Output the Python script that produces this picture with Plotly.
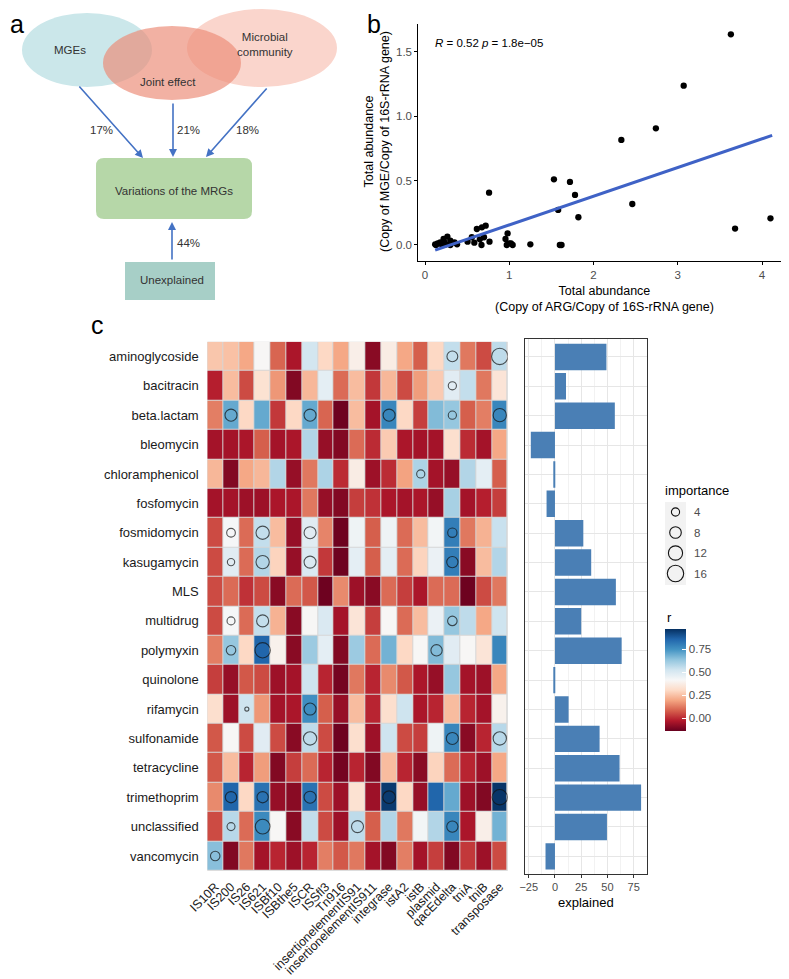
import numpy as np
import plotly.graph_objects as go

W, H = 789, 979          # browser window
OFF = 8                  # default page body margin
FW, FH = W - OFF, H - OFF  # figure size so the page fits the window
FONT = "Liberation Sans, Arial, sans-serif"


def px(x):
    """page x (pixels) -> paper fraction"""
    return (x - OFF) / FW


def py(y):
    """page y (pixels from top) -> paper fraction"""
    return 1 - (y - OFF) / FH


# ---------------- Panel b data ----------------
arg_total = [3.63, 3.07, 2.74, 2.33, 0.76, 1.53, 1.72, 1.78, 1.58, 1.82, 2.46, 3.68, 4.10,
             1.60, 1.62, 1.25, 0.98, 0.955, 0.97, 1.00, 1.04, 1.02, 0.72, 0.675, 0.615,
             0.70, 0.65, 0.67, 0.765, 0.555, 0.585, 0.505, 0.38, 0.35, 0.30, 0.265, 0.22,
             0.23, 0.18, 0.15, 0.12, 0.195, 0.13, 0.245, 0.30]
mge_total = [1.634, 1.236, 0.905, 0.815, 0.406, 0.509, 0.489, 0.388, 0.272, 0.215, 0.318, 0.127,
             0.207, 0.0, 0.0, 0.005, 0.09, 0.047, 0.0, 0.013, 0.0, 0.013, 0.15, 0.137, 0.124,
             0.06, 0.044, 0.0, 0.026, 0.06, 0.018, 0.026, 0.005, 0.02, 0.034, 0.065, 0.047,
             0.02, 0.02, 0.013, 0.005, 0.005, 0.0, 0.005, 0.0]
fit_x = [0.12, 4.12]
fit_y = [-0.04, 0.85]
b_xticks = [0, 1, 2, 3, 4]
b_yticks = [0.0, 0.5, 1.0, 1.5]

# ---------------- Panel c data ----------------
mrg_types = ["aminoglycoside", "bacitracin", "beta.lactam", "bleomycin", "chloramphenicol",
             "fosfomycin", "fosmidomycin", "kasugamycin", "MLS", "multidrug", "polymyxin",
             "quinolone", "rifamycin", "sulfonamide", "tetracycline", "trimethoprim",
             "unclassified", "vancomycin"]
mge_types = ["IS10R", "IS200", "IS26", "IS621", "ISBf10", "ISBthe5", "ISCR", "ISSfl3", "Tn916",
             "insertionelementIS91", "insertionelementIS911", "integrase", "istA2", "istB",
             "plasmid", "qacEdelta", "tniA", "tniB", "transposase"]
r_values = [
    [0.26, 0.25, 0.20, 0.41, 0.09, -0.04, 0.52, 0.30, 0.20, 0.38, -0.09, 0.37, 0.20, 0.08, 0.30, 0.55, 0.12, 0.05, 0.56],
    [-0.02, 0.24, 0.05, 0.33, 0.17, -0.10, 0.23, 0.47, 0.10, 0.24, 0.02, 0.23, 0.05, 0.18, 0.27, 0.48, 0.55, 0.12, 0.34],
    [0.13, 0.70, 0.30, 0.70, 0.02, 0.30, 0.70, 0.09, -0.13, 0.24, -0.05, 0.78, 0.30, 0.03, 0.66, 0.63, 0.08, 0.13, 0.78],
    [-0.05, -0.05, -0.04, 0.08, -0.05, -0.04, 0.58, -0.07, -0.10, 0.10, 0.00, 0.27, -0.04, -0.05, -0.05, 0.32, 0.00, -0.05, 0.20],
    [0.23, -0.10, 0.20, 0.23, 0.58, -0.07, 0.12, 0.59, 0.00, 0.37, -0.06, 0.00, 0.19, 0.59, -0.05, -0.07, 0.58, 0.47, 0.08],
    [-0.05, -0.05, -0.06, -0.06, -0.04, -0.04, 0.12, -0.07, -0.10, 0.03, 0.01, -0.04, -0.05, -0.04, -0.07, 0.60, -0.05, -0.02, 0.03],
    [0.05, 0.42, 0.10, 0.55, 0.24, -0.07, 0.48, 0.14, -0.13, 0.44, 0.08, 0.44, 0.10, 0.24, 0.43, 0.80, 0.12, 0.22, 0.54],
    [0.05, 0.48, 0.10, 0.58, 0.29, -0.07, 0.50, 0.02, -0.13, 0.47, 0.08, 0.47, 0.10, 0.29, 0.45, 0.80, -0.09, 0.24, 0.58],
    [0.05, 0.10, 0.01, 0.05, -0.09, 0.10, 0.07, -0.13, 0.15, -0.06, -0.09, 0.10, 0.03, -0.04, 0.10, 0.10, -0.13, 0.05, 0.12],
    [0.05, 0.42, 0.10, 0.55, 0.22, -0.09, 0.41, 0.50, -0.05, 0.34, 0.03, 0.41, 0.10, 0.24, 0.45, 0.63, 0.56, 0.20, 0.53],
    [0.13, 0.63, 0.30, 0.86, 0.39, -0.09, 0.62, 0.47, -0.10, 0.62, 0.10, 0.68, 0.30, 0.41, 0.66, 0.48, 0.41, 0.34, 0.78],
    [0.03, -0.07, 0.07, 0.05, -0.06, -0.05, 0.53, -0.01, -0.12, 0.12, -0.01, 0.15, 0.07, -0.04, -0.07, 0.63, -0.05, -0.06, 0.20],
    [0.32, -0.06, 0.53, 0.17, -0.05, -0.04, 0.76, 0.08, -0.07, 0.24, -0.01, 0.32, 0.53, -0.04, -0.01, 0.24, -0.01, -0.05, 0.39],
    [0.07, 0.41, 0.05, 0.48, 0.05, -0.09, 0.56, 0.05, -0.13, 0.32, -0.06, 0.53, 0.05, 0.03, 0.44, 0.78, -0.09, -0.01, 0.57],
    [0.07, 0.24, -0.01, 0.18, -0.10, 0.03, 0.10, -0.01, -0.12, -0.01, -0.10, 0.24, -0.01, -0.09, 0.29, 0.10, -0.01, -0.06, 0.20],
    [0.15, 0.86, 0.30, 0.83, -0.07, -0.09, 0.83, 0.05, -0.06, 0.33, -0.06, 0.95, 0.30, -0.07, 0.86, 0.70, -0.06, -0.10, 0.96],
    [0.05, 0.57, 0.10, 0.77, 0.41, -0.09, 0.55, 0.05, -0.06, 0.56, 0.08, 0.58, 0.12, 0.43, 0.58, 0.78, -0.04, 0.38, 0.68],
    [0.65, -0.10, 0.12, -0.05, -0.01, -0.06, -0.01, 0.13, 0.07, 0.12, -0.05, -0.10, 0.13, -0.05, 0.03, -0.10, 0.02, -0.06, 0.05],
]
imp_row = [0, 0, 1, 2, 2, 2, 2, 2, 4, 6, 6, 6, 6, 7, 7, 7, 7, 9, 9, 9, 10, 10, 10,
           12, 12, 13, 13, 13, 15, 15, 15, 15, 15, 16, 16, 16, 16, 17]
imp_col = [15, 18, 15, 1, 6, 11, 15, 18, 13, 1, 3, 6, 15, 1, 3, 6, 15, 1, 3, 15, 1, 3, 14,
           2, 6, 6, 15, 18, 1, 3, 6, 11, 18, 1, 3, 9, 15, 0]
imp_val = [7, 16, 4, 8.6, 8.6, 8.6, 4, 10.5, 4, 4.5, 10.5, 8.6, 5.2, 3.2, 10.5, 8.6, 7.6,
           3.8, 8.6, 5.4, 5.4, 14, 7.6, 1, 8.6, 10.5, 8.6, 10.5, 7.6, 7.6, 8.6, 9.5, 14,
           3.8, 12.8, 8.6, 7.6, 5.4]
explained = [49, 10.5, 57, -23, -1.5, -8, 27, 34.5, 58, 25, 63.5, -1.5, 13, 42.5, 61.5, 82, 49.5, -9]
imp_legend = [4, 8, 12, 16]
r_ticks = [0.0, 0.25, 0.50, 0.75]
bar_ticks = [-25, 0, 25, 50, 75]

# Panel a values
pct_labels = ["17%", "21%", "18%", "44%"]

rdbu = ["#67001F", "#B2182B", "#D6604D", "#F4A582", "#FDDBC7", "#F7F7F7",
        "#D1E5F0", "#92C5DE", "#4393C3", "#2166AC", "#053061"]
colorscale = [[i / 10, c] for i, c in enumerate(rdbu)]
ZMIN, ZMAX = -0.14, 0.97


def size_of(v):
    return 4.1 * np.sqrt(v)


fig = go.Figure()

# ---- panel b traces ----
fig.add_trace(go.Scatter(x=arg_total, y=mge_total, mode="markers",
                         marker=dict(color="black", size=6.3), xaxis="x", yaxis="y",
                         showlegend=False))
fig.add_trace(go.Scatter(x=fit_x, y=fit_y, mode="lines",
                         line=dict(color="#3F62C6", width=3), xaxis="x", yaxis="y",
                         showlegend=False))

# ---- panel c heatmap ----
fig.add_trace(go.Heatmap(z=r_values, x=mge_types, y=mrg_types, colorscale=colorscale,
                         zmin=ZMIN, zmax=ZMAX, xgap=1, ygap=1, xaxis="x2", yaxis="y2",
                         colorbar=dict(x=px(665), xanchor="left", y=py(680), yanchor="middle",
                                       len=102, lenmode="pixels", thickness=21,
                                       thicknessmode="pixels", outlinewidth=0, xpad=0, ypad=0,
                                       tickvals=r_ticks, ticktext=[f"{t:.2f}" for t in r_ticks],
                                       ticks="inside", ticklen=4, tickcolor="white",
                                       tickfont=dict(size=11.5, color="#4d4d4d", family=FONT))))
fig.add_trace(go.Scatter(x=[mge_types[c] for c in imp_col], y=[mrg_types[r] for r in imp_row],
                         mode="markers",
                         marker=dict(symbol="circle-open", color="#111111",
                                     size=[size_of(v) for v in imp_val], line=dict(width=1.1)),
                         xaxis="x2", yaxis="y2", showlegend=False))

# ---- panel c bars ----
fig.add_trace(go.Bar(x=explained, y=mrg_types, orientation="h", width=0.9,
                     marker=dict(color="#4A7FB5", line=dict(width=0)),
                     xaxis="x3", yaxis="y3", showlegend=False))

axis_common = dict(showgrid=False, zeroline=False, automargin=False)
fig.update_layout(
    template="none",
    width=FW, height=FH, autosize=False,
    margin=dict(l=0, r=0, t=0, b=0, pad=0),
    paper_bgcolor="white", plot_bgcolor="white",
    font=dict(family=FONT, color="#1a1a1a"),
    showlegend=False,
    xaxis=dict(domain=[px(418.3), 1.0], range=[-0.08, 4.32], tickvals=b_xticks,
               showline=True, linecolor="black", linewidth=1, ticks="outside", ticklen=3,
               tickcolor="black", tickfont=dict(size=11.5, color="#4d4d4d"), anchor="y",
               **axis_common),
    yaxis=dict(domain=[py(260.9), py(24.1)], range=[-0.1235, 1.7135], tickvals=b_yticks,
               ticktext=[f"{t:.1f}" for t in b_yticks],
               showline=True, linecolor="black", linewidth=1, ticks="outside", ticklen=3,
               tickcolor="black", tickfont=dict(size=11.5, color="#4d4d4d"), anchor="x",
               **axis_common),
    xaxis2=dict(domain=[px(207.3), px(507.7)], range=[-0.5, 18.5], anchor="y2",
                tickmode="linear", tick0=0, dtick=1,
                tickangle=-45, tickfont=dict(size=12.5, color="#1a1a1a"),
                ticks="outside", ticklen=3, tickcolor="rgba(0,0,0,0)", **axis_common),
    yaxis2=dict(domain=[py(870.7), py(341.7)], range=[17.5, -0.5], anchor="x2",
                tickmode="linear", tick0=0, dtick=1,
                tickfont=dict(size=13, color="#1a1a1a"),
                ticks="outside", ticklen=5, tickcolor="rgba(0,0,0,0)", **axis_common),
    xaxis3=dict(domain=[px(525.3), px(646.6)], range=[-28.25, 87.25], anchor="y3",
                tickmode="linear", tick0=-25, dtick=25, automargin=False,
                showgrid=True, gridcolor="#e6e6e6", gridwidth=1, zeroline=False,
                minor=dict(dtick=12.5, tick0=-25, showgrid=True, gridcolor="#f2f2f2", gridwidth=0.7),
                showline=True, mirror=True, linecolor="#333333", linewidth=1,
                ticks="outside", ticklen=3, tickcolor="#333333",
                tickfont=dict(size=11, color="#4d4d4d")),
    yaxis3=dict(domain=[py(874), py(339.3)], range=[17.6, -0.6], anchor="x3",
                automargin=False, tickmode="linear", tick0=0, dtick=1,
                showticklabels=False, ticks="", showgrid=True, gridcolor="#e6e6e6",
                zeroline=False, showline=True, mirror=True, linecolor="#333333", linewidth=1),
)

shapes = []
# heatmap tile borders background
shapes.append(dict(type="rect", xref="x2", yref="y2", x0=-0.5, x1=18.5, y0=-0.5, y1=17.5,
                   fillcolor="#d6d6d6", line=dict(width=1, color="#d6d6d6"), layer="below"))

# ---- Panel a diagram ----
def ellipse(cx, cy, rx, ry, color, opacity=1.0):
    return dict(type="circle", xref="paper", yref="paper", x0=px(cx - rx), x1=px(cx + rx),
                y0=py(cy + ry), y1=py(cy - ry), fillcolor=color, opacity=opacity,
                line=dict(width=0), layer="above")


def rrect(x0, y0, x1, y1, r, color):
    pts = [
        ("M", [(x0 + r, y0)]), ("L", [(x1 - r, y0)]), ("Q", [(x1, y0), (x1, y0 + r)]),
        ("L", [(x1, y1 - r)]), ("Q", [(x1, y1), (x1 - r, y1)]), ("L", [(x0 + r, y1)]),
        ("Q", [(x0, y1), (x0, y1 - r)]), ("L", [(x0, y0 + r)]), ("Q", [(x0, y0), (x0 + r, y0)]),
    ]
    path = ""
    for cmd, ps in pts:
        path += cmd + " " + " ".join(f"{px(a):.5f},{py(b):.5f}" for a, b in ps) + " "
    path += "Z"
    return dict(type="path", xref="paper", yref="paper", path=path, fillcolor=color,
                line=dict(width=0), layer="above")


shapes.append(ellipse(87, 50, 65, 37, "#CBE7EA"))
shapes.append(ellipse(262, 48, 75, 39, "#FAD5CC"))
shapes.append(ellipse(172, 63, 69, 37, "#EC8C78", 0.68))
shapes.append(rrect(96, 158, 252, 219, 8, "#B6D7A8"))
shapes.append(dict(type="rect", xref="paper", yref="paper", x0=px(125), x1=px(215),
                   y0=py(300), y1=py(262), fillcolor="#A7CFC7", line=dict(width=0)))

# importance legend
shapes.append(dict(type="rect", xref="paper", yref="paper", x0=px(665), x1=px(686),
                   y0=py(585), y1=py(502), fillcolor="#F2F2F2", line=dict(width=0)))
leg_y = [512, 532.5, 553, 573.5]
for v, yy in zip(imp_legend, leg_y):
    d = size_of(v)
    shapes.append(dict(type="circle", xref="paper", yref="paper", xsizemode="pixel",
                       ysizemode="pixel", xanchor=px(675.5), yanchor=py(yy),
                       x0=-d / 2, x1=d / 2, y0=-d / 2, y1=d / 2,
                       line=dict(color="#111111", width=1.1)))

annotations = []


def ann(text, x, y, size=11.5, color="#1a1a1a", xanchor="center", yanchor="middle", **kw):
    annotations.append(dict(text=text, x=px(x), y=py(y), xref="paper", yref="paper",
                            showarrow=False, xanchor=xanchor, yanchor=yanchor,
                            font=dict(size=size, color=color, family=FONT), **kw))


# panel letters
ann("a", OFF, OFF, size=25, color="black", xanchor="left", yanchor="top")
ann("b", 374, OFF, size=25, color="black", yanchor="top")
ann("c", 97, 309, size=25, color="black", yanchor="top")

# panel a texts
ann("MGEs", 70, 50, color="#333333")
ann("Joint effect", 168, 82, color="#333333")
ann("Microbial<br>community", 265, 45, color="#333333")
ann("Variations of the MRGs", 174, 191, color="#333333")
ann("Unexplained", 172, 280, color="#333333")
for t, (xx, yy) in zip(pct_labels, [(101, 130), (188, 130), (248, 130), (188, 243)]):
    ann(t, xx, yy, color="#333333")

arrows = [((78, 85), (143, 158)), ((173, 102), (173, 157)), ((268, 87), (206, 157)),
          ((172, 261), (172, 222))]
for (tx, ty), (hx, hy) in arrows:
    annotations.append(dict(x=px(hx), y=py(hy), xref="paper", yref="paper", ax=tx - hx,
                            ay=ty - hy, axref="pixel", ayref="pixel", text="", showarrow=True,
                            arrowhead=2, arrowsize=1, arrowwidth=1.6, arrowcolor="#4472C4"))

# panel b texts
ann("<i>R</i> = 0.52 <i>p</i> = 1.8e\u221205", 433, 43, size=11.5, color="black", xanchor="left")
ann("Total abundance<br>(Copy of MGE/Copy of 16S-rRNA gene)", 377, 142, size=12.5,
    color="black", textangle=-90)
ann("Total abundance<br>(Copy of ARG/Copy of 16S-rRNA gene)", 604, 299, size=12.5, color="black")

# panel c texts
ann("explained", 586, 902, size=13, color="black")
ann("importance", 663, 491, size=13, color="black", xanchor="left")
for v, yy in zip(imp_legend, leg_y):
    ann(str(v), 692, yy, size=11.5, color="#4d4d4d", xanchor="left")
ann("r", 665, 617, size=13, color="black", xanchor="left")

fig.update_layout(shapes=shapes, annotations=annotations)
fig.write_html("out.html")
